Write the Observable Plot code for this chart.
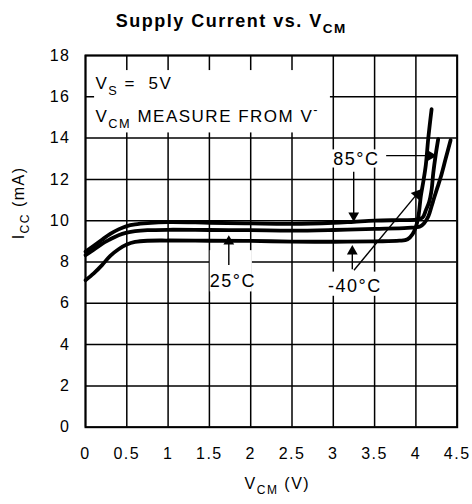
<!DOCTYPE html>
<html>
<head>
<meta charset="utf-8">
<script src="https://cdn.jsdelivr.net/npm/d3@7"></script>
<script src="https://cdn.jsdelivr.net/npm/@observablehq/plot@0.6"></script>
<style>
  html, body { margin: 0; padding: 0; background: #fff; }
  svg text { letter-spacing: 1.5px; }
  g[aria-label="legend"] text { letter-spacing: 1.8px; }
  g[aria-label="title"] text { letter-spacing: 1.7px; }
  g[aria-label="temp"] text { letter-spacing: 0.4px; }
</style>
</head>
<body>
<div id="chart"></div>
<script>
// ---- data ----
const titleText = "Supply Current vs. V_{CM}";
const xLabel = "V_{CM} (V)";
const yLabel = "I_{CC} (mA)";
const xTicks = [0, 0.5, 1, 1.5, 2, 2.5, 3, 3.5, 4, 4.5];
const xTickLabels = ["0", "0.5", "1", "1.5", "2", "2.5", "3", "3.5", "4", "4.5"];
const yTicks = [0, 2, 4, 6, 8, 10, 12, 14, 16, 18];
const yTickLabels = ["0", "2", "4", "6", "8", "10", "12", "14", "16", "18"];

const temps = ["-40°C", "25°C", "85°C"];
const vcmM40 = [0, 0.1, 0.2, 0.3, 0.4, 0.5, 0.6, 0.75, 1, 1.5, 2, 2.5, 3, 3.5, 3.8, 3.9, 3.96, 4.0, 4.03, 4.06, 4.09, 4.12, 4.15, 4.19];
const iccM40 = [7.12, 7.45, 7.85, 8.3, 8.62, 8.85, 8.97, 9.03, 9.04, 9.03, 9.02, 8.99, 8.98, 9.0, 9.03, 9.1, 9.35, 9.7, 10.2, 11.2, 11.9, 12.7, 14.0, 15.4];
const vcm25 = [0, 0.1, 0.2, 0.3, 0.4, 0.5, 0.6, 0.75, 1, 1.5, 2, 2.5, 3, 3.5, 3.9, 4.05, 4.1, 4.15, 4.19, 4.22, 4.26, 4.3, 4.36, 4.42];
const icc25 = [8.33, 8.6, 8.88, 9.1, 9.3, 9.42, 9.49, 9.54, 9.56, 9.55, 9.54, 9.52, 9.55, 9.6, 9.65, 9.72, 9.88, 10.2, 10.7, 11.1, 11.6, 12.1, 13.0, 13.9];
const vcm85 = [0, 0.1, 0.2, 0.3, 0.4, 0.5, 0.6, 0.75, 1, 1.5, 2, 2.5, 3, 3.25, 3.5, 3.8, 4.0, 4.08, 4.12, 4.16, 4.19, 4.21, 4.24, 4.27];
const icc85 = [8.5, 8.78, 9.08, 9.36, 9.58, 9.74, 9.82, 9.88, 9.93, 9.9, 9.87, 9.85, 9.9, 9.95, 10.0, 10.03, 10.05, 10.15, 10.5, 10.9, 11.5, 12.3, 13.2, 13.95];

// annotation texts and anchors (data units)
const legendLines = ["V_{S} =\u00A0\u00A05V", "V_{CM} MEASURE FROM V^{-}"];
const legendX = [0.121, 0.121];
const legendY = [16.62, 15.02];
const tempLabelText = ["85°C", "25°C", "-40°C"];
const tempLabelX = [3.28, 1.785, 3.26];
const tempLabelY = [12.98, 7.07, 6.83];
// white label backgrounds (data units)
const boxX1 = [0.11, 2.965, 1.51, 2.94];
const boxX2 = [2.965, 3.545, 2.02, 3.57];
const boxY1 = [14.25, 12.55, 6.55, 6.34];
const boxY2 = [17.27, 13.43, 8.55, 7.51];
// arrows: tail (x1,y1) -> tip (x2,y2)
const arrowX1 = [1.735, 3.247, 3.64, 3.23, 3.25];
const arrowY1 = [7.85, 12.37, 13.15, 7.65, 7.6];
const arrowX2 = [1.735, 3.247, 4.255, 3.23, 4.06];
const arrowY2 = [9.3, 9.95, 13.15, 8.82, 11.52];

// ---- layout ----
const W = 472, H = 504;
const mL = 85, mR = 15.3, mT = 55, mB = 77.3;
const xDomain = [0, 4.5], yDomain = [0, 18];

const curveData = [
  ...vcmM40.map((v, i) => ({temp: temps[0], vcm: v, icc: iccM40[i]})),
  ...vcm25.map((v, i) => ({temp: temps[1], vcm: v, icc: icc25[i]})),
  ...vcm85.map((v, i) => ({temp: temps[2], vcm: v, icc: icc85[i]}))
];
const boxes = boxX1.map((d, i) => ({x1: d, x2: boxX2[i], y1: boxY1[i], y2: boxY2[i]}));

const sx = Plot.scale({x: {domain: xDomain, range: [mL, W - mR]}});
const sy = Plot.scale({y: {domain: yDomain, range: [H - mB, mT]}});
const headBack = 6.2;
const arrows = arrowX1.map((x1, i) => {
  const px1 = sx.apply(x1), py1 = sy.apply(arrowY1[i]);
  const px2 = sx.apply(arrowX2[i]), py2 = sy.apply(arrowY2[i]);
  const len = Math.hypot(px2 - px1, py2 - py1);
  const ux = (px2 - px1) / len, uy = (py2 - py1) / len;
  const cx = px2 - ux * headBack, cy = py2 - uy * headBack;
  return {
    x1, y1: arrowY1[i],
    hx: sx.invert(cx), hy: sy.invert(cy),
    rotate: Math.atan2(px2 - px1, -(py2 - py1)) * 180 / Math.PI
  };
});

const font = "'Liberation Sans', Arial, Helvetica, sans-serif";

const chart = Plot.plot({
  width: W, height: H,
  marginLeft: mL, marginRight: mR, marginTop: mT, marginBottom: mB,
  style: {fontFamily: font, fontSize: "16px", background: "#fff", color: "#000"},
  x: {domain: xDomain},
  y: {domain: yDomain},
  marks: [
    Plot.ruleX(xTicks, {stroke: "#000", strokeWidth: 1.5}),
    Plot.ruleY(yTicks, {stroke: "#000", strokeWidth: 1.5}),
    Plot.rect(boxes, {x1: "x1", x2: "x2", y1: "y1", y2: "y2", fill: "#fff"}),
    Plot.line(curveData, {x: "vcm", y: "icc", z: "temp", stroke: "#000", strokeWidth: 3.8, curve: "catmull-rom", strokeLinecap: "round", strokeLinejoin: "round"}),
    Plot.link(arrows, {x1: "x1", y1: "y1", x2: "hx", y2: "hy", stroke: "#000", strokeWidth: 1.4}),
    Plot.dot(arrows, {x: "hx", y: "hy", rotate: "rotate", symbol: "triangle", r: 4, fill: "#000", stroke: "none"}),
    Plot.text(legendLines, {x: (d, i) => legendX[i], y: (d, i) => legendY[i], text: d => d, textAnchor: "start", fontSize: 17, ariaLabel: "legend"}),
    Plot.text(tempLabelText, {x: (d, i) => tempLabelX[i], y: (d, i) => tempLabelY[i], text: d => d, fontSize: 18, ariaLabel: "temp"}),
    Plot.axisX({ticks: xTicks, tickSize: 0, tickPadding: 20, tickFormat: (d, i) => xTickLabels[i], label: null, fontSize: 16}),
    Plot.axisY({ticks: yTicks, tickSize: 0, tickPadding: 15, tickFormat: (d, i) => yTickLabels[i], label: null, fontSize: 16}),
    Plot.text([xLabel], {frameAnchor: "bottom", dx: 6, dy: 61.5, text: d => d, fontSize: 16, ariaLabel: "xlabel"}),
    Plot.text([yLabel], {frameAnchor: "left", rotate: -90, dx: -67, dy: -2, text: d => d, fontSize: 16, ariaLabel: "ylabel"}),
    Plot.text([titleText], {frameAnchor: "top", dx: -40, dy: -40.8, text: d => d, fontSize: 18, fontWeight: "bold", ariaLabel: "title"}),
    Plot.frame({stroke: "#000", strokeWidth: 2})
  ]
});

document.getElementById("chart").appendChild(chart);

// convert _{..} and ^{..} markup into sub/superscript tspans
const NS = "http://www.w3.org/2000/svg";
chart.querySelectorAll("text").forEach(t => {
  const s = t.textContent;
  if (!/[_^]\{/.test(s)) return;
  const fs = parseFloat(getComputedStyle(t).fontSize) || 16;
  while (t.firstChild) t.removeChild(t.firstChild);
  let shift = 0;
  const add = (str, mode) => {
    if (!str) return;
    const ts = document.createElementNS(NS, "tspan");
    ts.textContent = str;
    const target = mode === "_" ? fs * 0.32 : mode === "^" ? -fs * 0.5 : 0;
    if (target !== shift) { ts.setAttribute("dy", (target - shift).toFixed(2)); shift = target; }
    if (mode) ts.setAttribute("font-size", (fs * 0.75).toFixed(2));
    t.appendChild(ts);
  };
  const re = /([_^])\{([^}]*)\}/g;
  let last = 0, m;
  while ((m = re.exec(s))) {
    add(s.slice(last, m.index), null);
    add(m[2], m[1]);
    last = re.lastIndex;
  }
  add(s.slice(last), null);
});
</script>
</body>
</html>
